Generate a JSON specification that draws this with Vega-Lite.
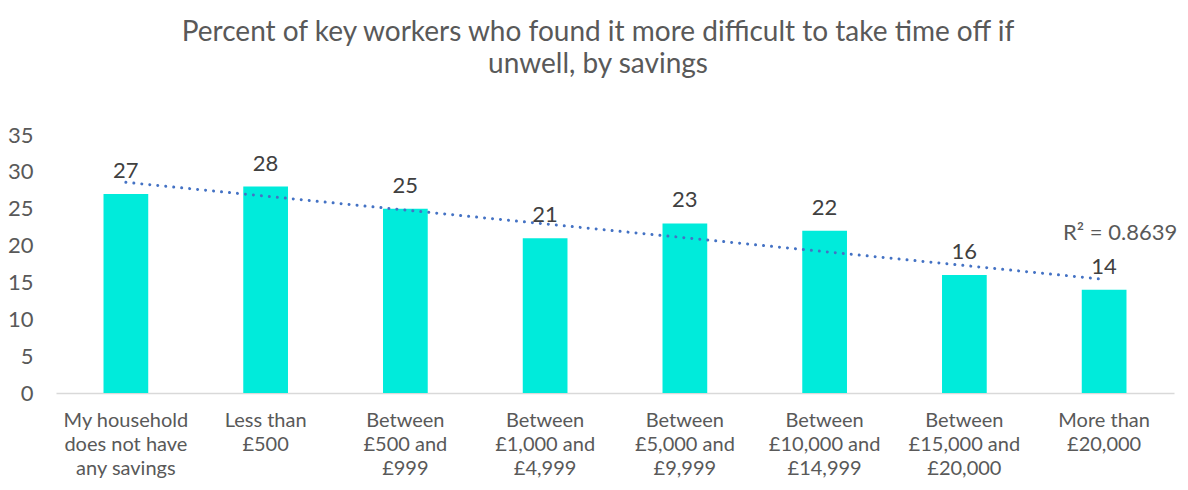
{
  "$schema": "https://vega.github.io/schema/vega-lite/v6.json",
  "width": 1118,
  "height": 258,
  "autosize": {"type": "none"},
  "padding": {"left": 56, "top": 135, "right": 14, "bottom": 97},
  "background": "white",
  "config": {"view": {"stroke": null}, "font": "Lato"},
  "title": {
    "text": ["Percent of key workers who found it more difficult to take time off if", "unwell, by savings"],
    "fontSize": 28,
    "fontWeight": "normal",
    "font": "Lato",
    "color": "#595959",
    "lineHeight": 32,
    "anchor": "middle",
    "dx": -17,
    "offset": 45
  },
  "data": {
    "values": [
      {"savings": "My household\ndoes not have\nany savings", "percent": 27},
      {"savings": "Less than\n£500", "percent": 28},
      {"savings": "Between\n£500 and\n£999", "percent": 25},
      {"savings": "Between\n£1,000 and\n£4,999", "percent": 21},
      {"savings": "Between\n£5,000 and\n£9,999", "percent": 23},
      {"savings": "Between\n£10,000 and\n£14,999", "percent": 22},
      {"savings": "Between\n£15,000 and\n£20,000", "percent": 16},
      {"savings": "More than\n£20,000", "percent": 14}
    ]
  },
  "transform": [{"window": [{"op": "row_number", "as": "idx"}]}],
  "encoding": {
    "y": {
      "field": "percent", "type": "quantitative",
      "scale": {"domain": [0, 35]},
      "axis": {
        "title": null, "values": [0, 5, 10, 15, 20, 25, 30, 35],
        "domain": false, "ticks": false, "grid": false, "labelOverlap": false,
        "labelFontSize": 22, "labelColor": "#595959", "labelPadding": 23
      }
    }
  },
  "layer": [
    {
      "mark": {"type": "bar", "color": "#00EBDB"},
      "encoding": {
        "x": {
          "field": "savings", "type": "nominal", "sort": null,
          "scale": {"paddingInner": 0.68, "paddingOuter": 0.34},
          "axis": {
            "title": null, "labelAngle": 0, "ticks": false,
            "domainColor": "#D9D9D9", "domainWidth": 1.5,
            "labelFontSize": 20, "labelColor": "#595959", "labelPadding": 17,
            "labelLineHeight": 24, "labelBaseline": "top", "labelLimit": 0,
            "labelExpr": "split(datum.label, '\\n')"
          }
        }
      }
    },
    {
      "mark": {"type": "text", "fontSize": 22, "color": "#404040", "baseline": "alphabetic", "dy": -16},
      "encoding": {
        "x": {"field": "savings", "type": "nominal", "sort": null,
              "scale": {"paddingInner": 0.68, "paddingOuter": 0.34}, "axis": null},
        "text": {"field": "percent", "type": "quantitative"}
      }
    },
    {
      "transform": [{"regression": "percent", "on": "idx"}],
      "mark": {"type": "line", "color": "#4472C4", "strokeWidth": 3, "strokeCap": "round", "strokeDash": [0.01, 8]},
      "encoding": {
        "x": {"field": "idx", "type": "quantitative", "scale": {"domain": [0.5, 8.5]}, "axis": null}
      }
    },
    {
      "transform": [{"regression": "percent", "on": "idx"}, {"filter": "datum.idx > 7.5"}],
      "mark": {"type": "text", "text": "R² = 0.8639", "fontSize": 22, "color": "#595959", "align": "center", "baseline": "alphabetic", "dx": 16, "dy": -39},
      "encoding": {
        "x": {"field": "idx", "type": "quantitative", "scale": {"domain": [0.5, 8.5]}, "axis": null}
      }
    }
  ],
  "resolve": {"scale": {"x": "independent"}}
}
